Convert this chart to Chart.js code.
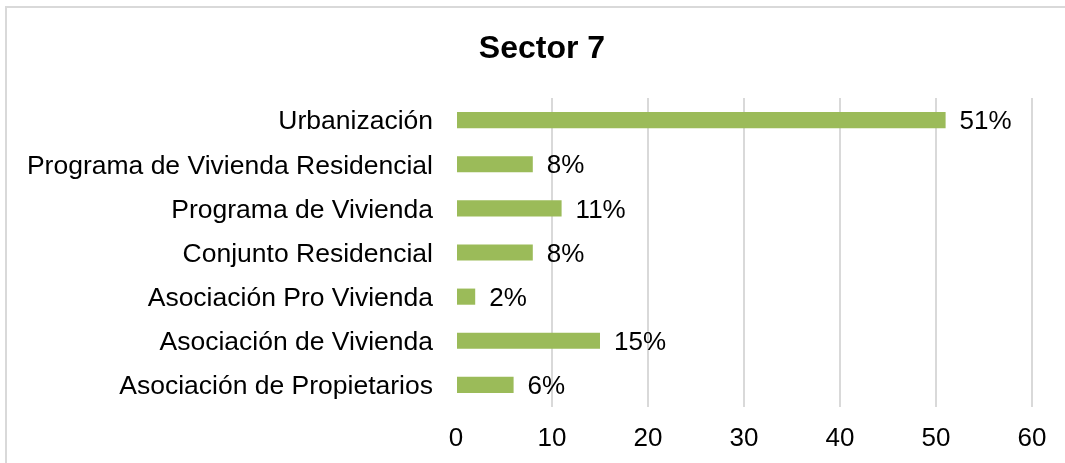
<!DOCTYPE html>
<html>
<head>
<meta charset="utf-8">
<script src="https://cdn.jsdelivr.net/npm/chart.js@4.4.0/dist/chart.umd.min.js"></script>
<style>
html,body{margin:0;padding:0;background:#fff;}
#wrap{position:relative;width:1065px;height:463px;}
</style>
</head>
<body>
<div id="wrap"><canvas id="c" width="1065" height="463"></canvas></div>
<script>
const title = "Sector 7";
const categories = [
  "Urbanización",
  "Programa de Vivienda Residencial",
  "Programa de Vivienda",
  "Conjunto Residencial",
  "Asociación Pro Vivienda",
  "Asociación de Vivienda",
  "Asociación de Propietarios"
];
const values = [51, 8, 11, 8, 2, 15, 6];
const valueLabels = ["51%", "8%", "11%", "8%", "2%", "15%", "6%"];
const xTicks = [0, 10, 20, 30, 40, 50, 60];

const FONT = "'Liberation Sans', Arial, sans-serif";

const decor = {
  id: 'decor',
  beforeDraw(chart) {
    const ctx = chart.ctx;
    ctx.save();
    ctx.fillStyle = '#fff';
    ctx.fillRect(0, 0, chart.width, chart.height);
    ctx.strokeStyle = '#d9d9d9';
    ctx.lineWidth = 2;
    ctx.beginPath();
    ctx.moveTo(6, chart.height + 2);
    ctx.lineTo(6, 7);
    ctx.lineTo(chart.width + 2, 7);
    ctx.stroke();
    ctx.restore();
  },
  afterDraw(chart) {
    const ctx = chart.ctx;
    ctx.save();
    ctx.fillStyle = '#000';
    ctx.font = "bold 32px " + FONT;
    ctx.textAlign = 'center';
    ctx.textBaseline = 'middle';
    ctx.fillText(title, 542, 49);
    ctx.font = "26px " + FONT;
    ctx.textAlign = 'left';
    const meta = chart.getDatasetMeta(0);
    meta.data.forEach((bar, i) => {
      ctx.fillText(valueLabels[i], bar.x + 14, bar.y + 2);
    });
    ctx.restore();
  }
};

new Chart(document.getElementById('c'), {
  type: 'bar',
  data: {
    labels: categories,
    datasets: [{
      data: values,
      backgroundColor: '#9bbb59',
      borderWidth: 0,
      barPercentage: 0.6,
      categoryPercentage: 0.61
    }]
  },
  options: {
    indexAxis: 'y',
    responsive: false,
    animation: false,
    devicePixelRatio: 1,
    layout: { padding: { top: 98, right: 33, bottom: 0, left: 0 } },
    plugins: { legend: { display: false }, tooltip: { enabled: false }, title: { display: false } },
    scales: {
      x: {
        min: 0, max: 60,
        afterBuildTicks(s) { s.ticks = xTicks.map(v => ({ value: v })); },
        afterFit(s) { s.height = 56; },
        border: { display: false },
        grid: {
          drawTicks: false,
          lineWidth: 2,
          color: ctx => (ctx.tick && ctx.tick.value === 0) ? 'rgba(0,0,0,0)' : '#d9d9d9'
        },
        ticks: { color: '#000', font: { family: FONT, size: 26 }, padding: 16, maxRotation: 0 }
      },
      y: {
        afterFit(s) { s.width = 456; },
        border: { display: false },
        grid: { display: false, drawTicks: false },
        ticks: { color: '#000', font: { family: FONT, size: 26.5 }, padding: 23, labelOffset: 2, autoSkip: false }
      }
    }
  },
  plugins: [decor]
});
</script>
</body>
</html>
